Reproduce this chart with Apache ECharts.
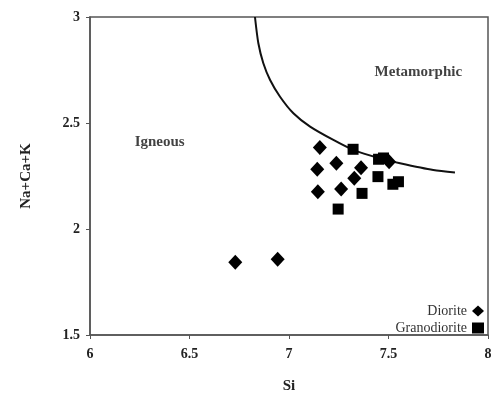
<!DOCTYPE html>
<html>
<head>
<meta charset="utf-8">
<script src="https://cdn.jsdelivr.net/npm/echarts@6/dist/echarts.min.js"></script>
<style>html,body{margin:0;padding:0;background:#fff;}#c{width:491px;height:401px;}</style>
</head>
<body>
<div id="c"></div>
<script>
const dioriteSi = [7.155, 7.142, 7.238, 7.362, 7.328, 7.145, 7.262, 7.503, 6.73, 6.943];
const dioriteNCK = [2.385, 2.282, 2.31, 2.289, 2.239, 2.176, 2.189, 2.317, 1.843, 1.857];
const granoSi = [7.322, 7.45, 7.475, 7.447, 7.367, 7.247, 7.522, 7.55];
const granoNCK = [2.376, 2.329, 2.335, 2.247, 2.168, 2.094, 2.211, 2.223];
const boundarySi = [6.829, 6.846, 6.871, 6.905, 6.955, 7.022, 7.106, 7.223, 7.323, 7.457, 7.558, 7.725, 7.834];
const boundaryNCK = [3.0, 2.876, 2.782, 2.703, 2.624, 2.546, 2.483, 2.42, 2.373, 2.333, 2.31, 2.278, 2.267];
const fieldNames = ['Igneous', 'Metamorphic'];
const fieldSi = [6.35, 7.65];
const fieldNCK = [2.41, 2.74];
const xTicks = [6, 6.5, 7, 7.5, 8];
const yTicks = [1.5, 2, 2.5, 3];

const zip = (a, b) => a.map((v, i) => [v, b[i]]);
const font = '"Liberation Serif", "Times New Roman", serif';
const chart = echarts.init(document.getElementById('c'));
chart.setOption({
  animation: false,
  backgroundColor: '#fff',
  textStyle: { fontFamily: font },
  grid: { left: 90, top: 17, width: 398, height: 318, outerBoundsMode: 'none', containLabel: false,
    show: true, borderColor: '#555', borderWidth: 1.5 },
  legend: {
    orient: 'vertical', right: 2, top: 299, align: 'right', itemGap: 3,
    itemWidth: 12, itemHeight: 11,
    data: [{ name: 'Diorite', icon: 'diamond' }, { name: 'Granodiorite', icon: 'rect' }],
    textStyle: { fontFamily: font, fontSize: 14, color: '#333' }
  },
  xAxis: {
    type: 'value', min: xTicks[0], max: xTicks[xTicks.length - 1], interval: 0.5,
    name: 'Si', nameLocation: 'middle', nameGap: 44,
    nameTextStyle: { fontFamily: font, fontWeight: 'bold', fontSize: 15, color: '#222' },
    axisLine: { lineStyle: { color: '#555', width: 1.5 } },
    axisTick: { show: true, length: 4, lineStyle: { color: '#555' } },
    axisLabel: { fontFamily: font, fontWeight: 'bold', fontSize: 14, color: '#222', margin: 12,
      formatter: v => String(v) },
    splitLine: { show: false }
  },
  yAxis: {
    type: 'value', min: yTicks[0], max: yTicks[yTicks.length - 1], interval: 0.5,
    name: 'Na+Ca+K', nameLocation: 'middle', nameGap: 56, nameRotate: 90,
    nameTextStyle: { fontFamily: font, fontWeight: 'bold', fontSize: 15, color: '#222' },
    axisLine: { show: true, lineStyle: { color: '#555', width: 1.5 } },
    axisTick: { show: true, length: 4, lineStyle: { color: '#555' } },
    axisLabel: { fontFamily: font, fontWeight: 'bold', fontSize: 14, color: '#222', margin: 10,
      formatter: v => String(v) },
    splitLine: { show: false }
  },
  series: [
    { name: 'Boundary', type: 'line', data: zip(boundarySi, boundaryNCK), smooth: 0.25,
      showSymbol: false, lineStyle: { color: '#111', width: 2 }, clip: true, z: 1 },
    { name: 'Diorite', type: 'scatter', symbol: 'diamond', symbolSize: [14, 15],
      data: zip(dioriteSi, dioriteNCK), itemStyle: { color: '#000', opacity: 1 }, z: 3 },
    { name: 'Granodiorite', type: 'scatter', symbol: 'rect', symbolSize: 11,
      data: zip(granoSi, granoNCK), itemStyle: { color: '#000', opacity: 1 }, z: 2 },
    { name: 'fields', type: 'scatter', symbolSize: 0,
      data: fieldNames.map((n, i) => ({ value: [fieldSi[i], fieldNCK[i]], name: n })),
      label: { show: true, position: 'inside', formatter: p => p.name,
        fontFamily: font, fontWeight: 'bold', fontSize: 15, color: '#111' },
      silent: true }
  ]
});
</script>
</body>
</html>
